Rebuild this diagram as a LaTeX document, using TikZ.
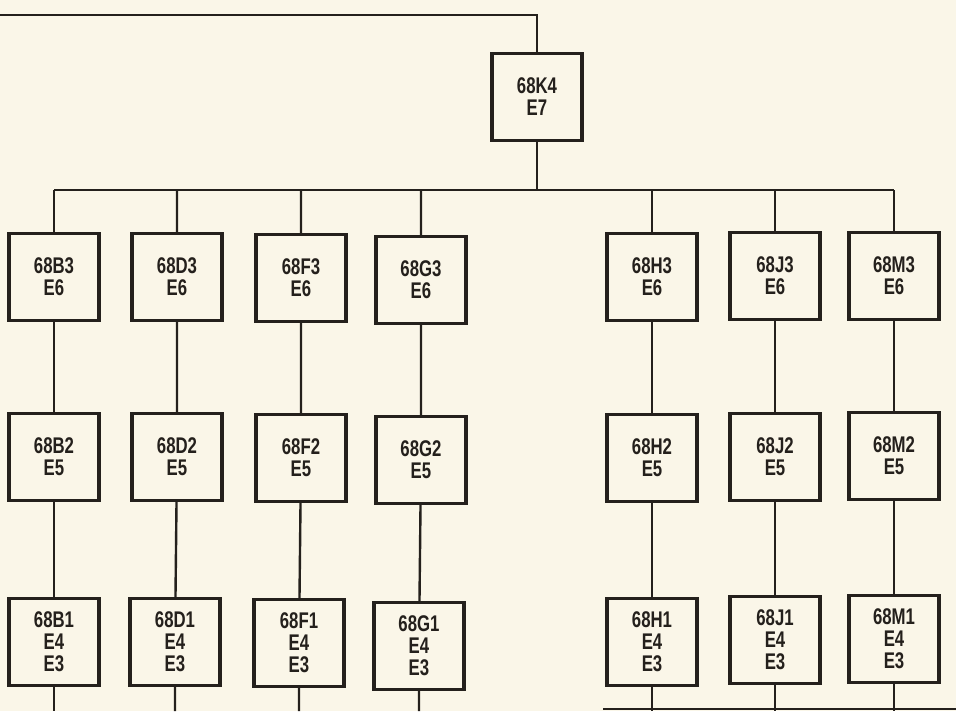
\documentclass[tikz,border=0pt]{standalone}
\usepackage{fontspec}
\newfontfamily\unitfont{Liberation Sans}[FakeStretch=0.74]
\usepackage{xcolor}
\usepackage{tikz}
\usetikzlibrary{positioning}
\definecolor{paper}{RGB}{250,246,232}
\definecolor{ink}{RGB}{36,32,28}
\tikzset{
  unitbox/.style={draw=ink, line width=2.6pt, fill=paper, minimum width=67.5pt, minimum height=65pt, inner sep=0pt, align=center, text=ink, font=\unitfont\bfseries\fontsize{17}{16.5}\selectfont},
  wire/.style={draw=ink, line width=1.8pt}
}
\begin{document}
\begin{tikzpicture}[x=0.75pt, y=-0.75pt]
\fill[paper] (0,0) rectangle (956,711);
\useasboundingbox (0,0) rectangle (956,711);
% Top unit
\node[unitbox] (k4) at (537,97) {68K4\\E7};
% Upper row
\node[unitbox] (b3) at (54,277) {68B3\\E6};
\node[unitbox] (d3) at (177,277) {68D3\\E6};
\node[unitbox] (f3) at (301,278) {68F3\\E6};
\node[unitbox] (g3) at (421,280) {68G3\\E6};
\node[unitbox] (h3) at (652,277) {68H3\\E6};
\node[unitbox] (j3) at (775,276) {68J3\\E6};
\node[unitbox] (m3) at (894,276) {68M3\\E6};
% Middle row
\node[unitbox] (b2) at (54,457) {68B2\\E5};
\node[unitbox] (d2) at (177,457) {68D2\\E5};
\node[unitbox] (f2) at (301,458) {68F2\\E5};
\node[unitbox] (g2) at (421,460) {68G2\\E5};
\node[unitbox] (h2) at (652,458) {68H2\\E5};
\node[unitbox] (j2) at (775,457) {68J2\\E5};
\node[unitbox] (m2) at (894,456) {68M2\\E5};
% Lower row
\node[unitbox] (b1) at (54,642) {68B1\\E4\\E3};
\node[unitbox] (d1) at (175,642) {68D1\\E4\\E3};
\node[unitbox] (f1) at (299,643) {68F1\\E4\\E3};
\node[unitbox] (g1) at (419,646) {68G1\\E4\\E3};
\node[unitbox] (h1) at (652,642) {68H1\\E4\\E3};
\node[unitbox] (j1) at (775,640) {68J1\\E4\\E3};
\node[unitbox] (m1) at (894,639) {68M1\\E4\\E3};
% Feed line and bus
\coordinate (feed) at (0,15);
\coordinate (bus) at (540,190);
\coordinate (base) at (0,711);
\draw[wire] (feed) -| (k4);
\draw[wire] (k4) -- (k4 |- bus);
\draw[wire] (b3.north |- bus) -- (m3.north |- bus);
% Columns
\draw[wire] (b3.north |- bus) -- (b3) (b3) -- (b2) (b2) -- (b1) (b1) -- (b1 |- base);
\draw[wire] (d3.north |- bus) -- (d3) (d3) -- (d2) (d2) -- (d1) (d1) -- (d1 |- base);
\draw[wire] (f3.north |- bus) -- (f3) (f3) -- (f2) (f2) -- (f1) (f1) -- (f1 |- base);
\draw[wire] (g3.north |- bus) -- (g3) (g3) -- (g2) (g2) -- (g1) (g1) -- (g1 |- base);
\draw[wire] (h3.north |- bus) -- (h3) (h3) -- (h2) (h2) -- (h1) (h1) -- (h1 |- base);
\draw[wire] (j3.north |- bus) -- (j3) (j3) -- (j2) (j2) -- (j1) (j1) -- (j1 |- base);
\draw[wire] (m3.north |- bus) -- (m3) (m3) -- (m2) (m2) -- (m1) (m1) -- (m1 |- base);
% Return line at the bottom
\coordinate (tailstart) at (603,709);
\coordinate (tailend) at (956,709);
\draw[wire] (tailstart) -- (tailend);
\end{tikzpicture}
\end{document}
